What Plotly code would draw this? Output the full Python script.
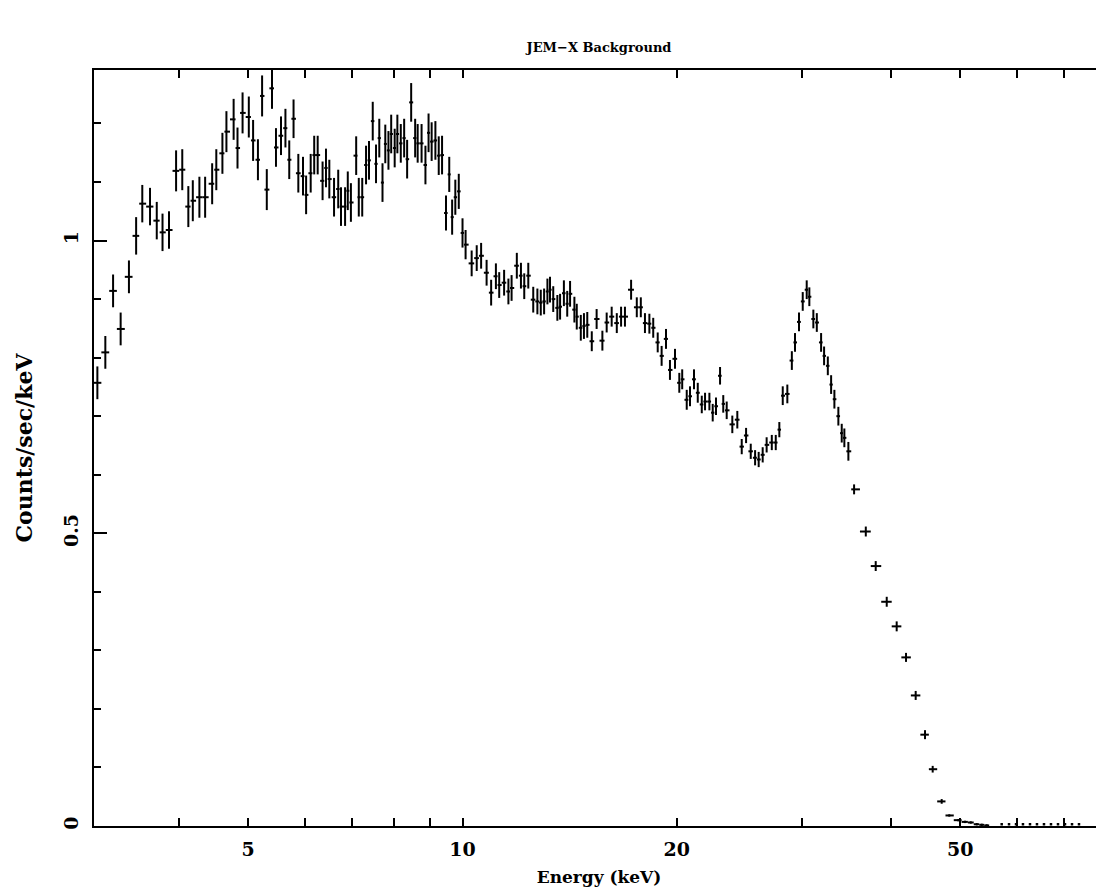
import math
import plotly.graph_objects as go

# ---------------- data ----------------
energy = [3.07, 3.15, 3.23, 3.31, 3.40, 3.48, 3.55, 3.64, 3.72, 3.79,
          3.87, 3.96, 4.04, 4.12, 4.18, 4.27, 4.35, 4.45, 4.51, 4.60,
          4.66, 4.77, 4.83, 4.91, 5.01, 5.08, 5.16, 5.23, 5.31, 5.40,
          5.47, 5.56, 5.64, 5.71, 5.79, 5.88, 5.97, 6.03, 6.12, 6.19,
          6.26, 6.36, 6.43, 6.50, 6.60, 6.69, 6.75, 6.84, 6.90, 6.97,
          7.09, 7.15, 7.23, 7.32, 7.39, 7.48, 7.56, 7.64, 7.72, 7.79,
          7.87, 7.94, 8.03, 8.10, 8.19, 8.28, 8.36, 8.47, 8.58, 8.65,
          8.76, 8.87, 8.96, 9.05, 9.16, 9.26, 9.36, 9.48, 9.58, 9.67,
          9.77, 9.88, 10.00, 10.10, 10.30, 10.47, 10.62, 10.81, 10.97, 11.14,
          11.26, 11.44, 11.60, 11.72, 11.92, 12.08, 12.21, 12.37, 12.57, 12.74,
          12.88, 13.02, 13.16, 13.27, 13.41, 13.59, 13.71, 13.88, 14.03, 14.16,
          14.36, 14.47, 14.66, 14.81, 14.97, 15.19, 15.43, 15.72, 15.94, 16.20,
          16.47, 16.70, 16.91, 17.25, 17.57, 17.80, 18.04, 18.30, 18.53, 18.80,
          19.04, 19.31, 19.56, 19.88, 20.16, 20.35, 20.65, 20.87, 21.14, 21.40,
          21.68, 21.91, 22.22, 22.46, 22.70, 23.00, 23.24, 23.50, 23.93, 24.32,
          24.67, 25.02, 25.40, 25.76, 26.06, 26.40, 26.74, 27.19, 27.54, 27.86,
          28.17, 28.59, 29.01, 29.31, 29.69, 30.05, 30.44, 30.70, 31.10, 31.45,
          31.89, 32.20, 32.59, 32.94, 33.29, 33.72, 34.09, 34.38, 34.83, 35.48,
          36.85, 38.05, 39.43, 40.72, 41.97, 43.30, 44.63, 45.75, 47.10, 48.27,
          49.69, 50.79, 51.74, 52.75, 53.61, 54.48]

rate = [0.757, 0.809, 0.914, 0.849, 0.938, 1.008, 1.063, 1.058, 1.034, 1.014,
        1.018, 1.119, 1.121, 1.058, 1.068, 1.074, 1.074, 1.097, 1.121, 1.149,
        1.186, 1.207, 1.158, 1.218, 1.211, 1.171, 1.138, 1.247, 1.087, 1.260,
        1.159, 1.179, 1.192, 1.138, 1.208, 1.115, 1.110, 1.078, 1.115, 1.146,
        1.146, 1.102, 1.124, 1.105, 1.074, 1.088, 1.058, 1.058, 1.085, 1.065,
        1.145, 1.074, 1.074, 1.129, 1.137, 1.204, 1.131, 1.175, 1.099, 1.165,
        1.154, 1.182, 1.158, 1.182, 1.166, 1.175, 1.139, 1.236, 1.175, 1.166,
        1.166, 1.129, 1.184, 1.169, 1.171, 1.145, 1.146, 1.047, 1.113, 1.040,
        1.074, 1.084, 1.013, 0.993, 0.961, 0.970, 0.974, 0.945, 0.911, 0.939,
        0.924, 0.928, 0.913, 0.919, 0.957, 0.940, 0.922, 0.940, 0.899, 0.896,
        0.894, 0.896, 0.913, 0.916, 0.900, 0.885, 0.887, 0.910, 0.892, 0.909,
        0.882, 0.870, 0.851, 0.854, 0.856, 0.828, 0.866, 0.829, 0.860, 0.870,
        0.859, 0.870, 0.870, 0.916, 0.886, 0.886, 0.859, 0.858, 0.851, 0.826,
        0.803, 0.832, 0.779, 0.798, 0.757, 0.763, 0.728, 0.734, 0.763, 0.740,
        0.720, 0.725, 0.725, 0.706, 0.717, 0.769, 0.721, 0.710, 0.686, 0.694,
        0.648, 0.667, 0.640, 0.629, 0.626, 0.634, 0.651, 0.655, 0.655, 0.677,
        0.735, 0.738, 0.795, 0.826, 0.861, 0.896, 0.916, 0.904, 0.866, 0.860,
        0.826, 0.803, 0.786, 0.754, 0.729, 0.700, 0.671, 0.663, 0.640, 0.575,
        0.503, 0.444, 0.383, 0.341, 0.288, 0.223, 0.156, 0.097, 0.042, 0.018,
        0.010, 0.007, 0.006, 0.003, 0.002, 0.001]

rate_err = [0.028, 0.028, 0.028, 0.028, 0.028, 0.032, 0.032, 0.032, 0.032, 0.032,
            0.032, 0.035, 0.035, 0.035, 0.035, 0.035, 0.035, 0.035, 0.035, 0.035,
            0.035, 0.035, 0.035, 0.035, 0.035, 0.035, 0.035, 0.035, 0.035, 0.035,
            0.033, 0.033, 0.033, 0.033, 0.033, 0.033, 0.033, 0.033, 0.033, 0.033,
            0.033, 0.033, 0.033, 0.033, 0.033, 0.033, 0.033, 0.033, 0.033, 0.033,
            0.033, 0.033, 0.033, 0.033, 0.033, 0.033, 0.033, 0.033, 0.033, 0.033,
            0.033, 0.033, 0.033, 0.033, 0.033, 0.033, 0.033, 0.033, 0.033, 0.033,
            0.033, 0.033, 0.033, 0.033, 0.033, 0.033, 0.033, 0.030, 0.030, 0.030,
            0.030, 0.030, 0.025, 0.025, 0.022, 0.022, 0.022, 0.022, 0.022, 0.022,
            0.022, 0.022, 0.022, 0.022, 0.022, 0.022, 0.022, 0.022, 0.022, 0.022,
            0.022, 0.022, 0.022, 0.022, 0.022, 0.022, 0.022, 0.022, 0.022, 0.022,
            0.022, 0.022, 0.022, 0.022, 0.022, 0.017, 0.017, 0.017, 0.017, 0.017,
            0.017, 0.017, 0.017, 0.017, 0.017, 0.017, 0.017, 0.017, 0.017, 0.017,
            0.017, 0.017, 0.017, 0.017, 0.017, 0.017, 0.017, 0.017, 0.017, 0.017,
            0.015, 0.015, 0.015, 0.015, 0.015, 0.015, 0.015, 0.015, 0.015, 0.015,
            0.013, 0.013, 0.013, 0.013, 0.013, 0.013, 0.013, 0.013, 0.013, 0.013,
            0.016, 0.016, 0.016, 0.016, 0.016, 0.016, 0.016, 0.016, 0.016, 0.016,
            0.016, 0.016, 0.016, 0.016, 0.016, 0.016, 0.016, 0.016, 0.016, 0.0085,
            0.0085, 0.0085, 0.0085, 0.0085, 0.0077, 0.0077, 0.0077, 0.0057, 0.004, 0.002,
            0.002, 0.002, 0.002, 0.002, 0.002, 0.002]

tail_energy = [57.19, 58.56, 59.90, 61.26, 62.67, 64.10, 65.57, 67.07, 68.61, 70.18, 71.79, 73.43]
tail_rate = [0.003, 0.003, 0.003, 0.003, 0.003, 0.003, 0.003, 0.003, 0.003, 0.003, 0.003, 0.003]

x_tick_vals = [5, 10, 20, 50]
x_tick_text = ["5", "10", "20", "50"]
x_minor_vals = [4, 6, 7, 8, 9, 30, 40, 60, 70]
x_decade_vals = [10]
y_tick_vals = [0, 0.5, 1]
y_tick_text = ["0", "0.5", "1"]

assert len(energy) == len(rate) == len(rate_err), (len(energy), len(rate), len(rate_err))

# contiguous energy bins: edges halfway (in log) between neighbouring channels
edges = [math.sqrt(a * b) for a, b in zip(energy[:-1], energy[1:])]
lo_edges = [energy[0] ** 2 / edges[0]] + edges
hi_edges = edges + [energy[-1] ** 2 / edges[-1]]
err_plus = [h - e for h, e in zip(hi_edges, energy)]
err_minus = [e - l for e, l in zip(energy, lo_edges)]

FONT = "DejaVu Serif"
INK = "#000000"
LW = 2

fig = go.Figure()
fig.add_trace(go.Scatter(
    x=energy, y=rate, mode="markers",
    marker=dict(size=1, color=INK),
    error_x=dict(type="data", array=err_plus, arrayminus=err_minus,
                 symmetric=False, color=INK, thickness=LW, width=0),
    error_y=dict(type="data", array=rate_err, color=INK, thickness=LW, width=0),
    showlegend=False, hoverinfo="x+y",
))
fig.add_trace(go.Scatter(
    x=tail_energy, y=tail_rate, mode="markers",
    marker=dict(size=2.5, color=INK, symbol="square"),
    showlegend=False,
))

xr = [0.4824, 1.9010]
W, H = 1096, 886

fig.update_layout(
    width=W, height=H,
    margin=dict(l=86, r=0, t=62, b=68),
    paper_bgcolor="white", plot_bgcolor="white",
    font=dict(family=FONT, color=INK, weight="bold"),
    title=dict(text="JEM\u2212X Background", x=0.5, xref="paper",
               y=1 - 39 / H, yref="container", yanchor="middle", xanchor="center",
               font=dict(family=FONT, size=13, color=INK, weight="bold")),
    xaxis=dict(
        type="log", range=xr, tickmode="array", tickvals=x_tick_vals, ticktext=x_tick_text,
        ticks="inside", ticklen=8, tickwidth=LW, tickcolor=INK,
        showline=True, linewidth=LW, linecolor=INK, mirror="ticks",
        showgrid=False, zeroline=False,
        minor=dict(tickmode="array", tickvals=x_minor_vals, ticks="inside", ticklen=8,
                   tickwidth=LW, tickcolor=INK, showgrid=False),
        tickfont=dict(family=FONT, size=19, color=INK, weight="bold"),
        ticklabelstandoff=5,
        title=dict(text="Energy (keV)", standoff=12,
                   font=dict(family=FONT, size=17, color=INK, weight="bold")),
    ),
    xaxis2=dict(
        type="log", range=xr, overlaying="x", anchor="y", side="bottom",
        tickmode="array", tickvals=x_decade_vals, ticks="inside", ticklen=12,
        tickwidth=LW, tickcolor=INK, showticklabels=False, showline=False,
        mirror="ticks", showgrid=False, zeroline=False,
    ),
    yaxis=dict(
        range=[0, 1.2913], tickmode="array", tickvals=y_tick_vals, ticktext=y_tick_text,
        tickangle=-90, ticks="inside", ticklen=13, tickwidth=LW, tickcolor=INK,
        showline=True, linewidth=LW, linecolor=INK, mirror=False,
        showgrid=False, zeroline=False,
        minor=dict(dtick=0.1, tick0=0, ticks="inside", ticklen=7, tickwidth=LW,
                   tickcolor=INK, showgrid=False),
        tickfont=dict(family=FONT, size=19, color=INK, weight="bold"),
        ticklabelstandoff=6,
        title=dict(text="Counts/sec/keV", standoff=22,
                   font=dict(family=FONT, size=22, color=INK, weight="bold")),
    ),
)

fig.write_html("out.html")
